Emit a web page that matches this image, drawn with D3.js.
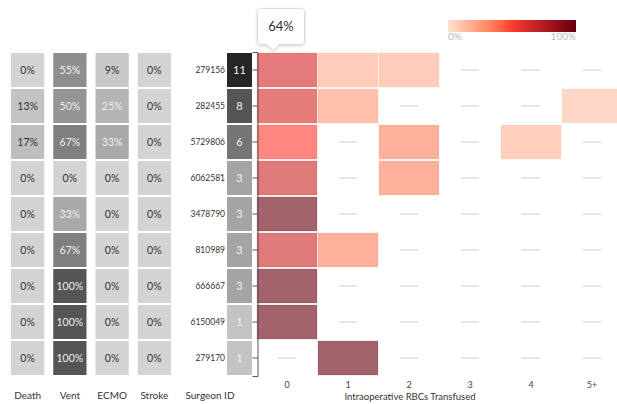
<!DOCTYPE html>
<html>
<head>
<meta charset="utf-8">
<script src="https://cdn.jsdelivr.net/npm/d3@7"></script>
<style>
  html, body { margin: 0; padding: 0; background: #fff; }
  svg { display: block; font-family: Lato, "Open Sans", sans-serif; }
</style>
</head>
<body>
<svg id="chart" width="617" height="404"></svg>
<script>
// ---- data ----
const surgeons   = ["279156", "282455", "5729806", "6062581", "3478790", "810989", "666667", "6150049", "279170"];
const caseCounts = [11, 8, 6, 3, 3, 3, 3, 1, 1];
const outcomes   = ["Death", "Vent", "ECMO", "Stroke"];
const deathPct   = [0, 13, 17, 0, 0, 0, 0, 0, 0];
const ventPct    = [55, 50, 67, 0, 33, 67, 100, 100, 100];
const ecmoPct    = [9, 25, 33, 0, 0, 0, 0, 0, 0];
const strokePct  = [0, 0, 0, 0, 0, 0, 0, 0, 0];
const rbcBins    = ["0", "1", "2", "3", "4", "5+"];
// cases per RBC bin, one row per surgeon
const rbcCounts = [
  [7, 2, 2, 0, 0, 0],
  [5, 2, 0, 0, 0, 1],
  [3, 0, 2, 0, 1, 0],
  [2, 0, 1, 0, 0, 0],
  [3, 0, 0, 0, 0, 0],
  [2, 1, 0, 0, 0, 0],
  [3, 0, 0, 0, 0, 0],
  [1, 0, 0, 0, 0, 0],
  [0, 1, 0, 0, 0, 0]
];
const tooltipText = "64%";
const legendLabels = ["0%", "100%"];

// ---- scales ----
const svg = d3.select("#chart");
const y = d3.scaleBand().domain(surgeons).range([52, 376]);
const xOut = d3.scaleBand().domain(outcomes).range([10, 179]);
const xRbc = d3.scaleBand().domain(rbcBins).range([256.5, 622.5]);
const grey = d3.scaleLinear().domain([0, 100]).range(["#d3d3d3", "#555555"]);
const countGrey = d3.scaleLinear().domain([0, 11]).range(["#d3d3d3", "#262626"]);
const heat = d3.scaleLinear().domain([0, 0.5, 1]).range(["#fee0d2", "#ff3b2f", "#67000d"]).interpolate(d3.interpolateHcl);

const outcomeVals = { Death: deathPct, Vent: ventPct, ECMO: ecmoPct, Stroke: strokePct };

// ---- outcome grid ----
const outCells = [];
surgeons.forEach((s, i) => outcomes.forEach(o => outCells.push({ s, o, v: outcomeVals[o][i] })));
const og = svg.append("g");
og.selectAll("rect").data(outCells).join("rect")
  .attr("x", d => xOut(d.o) + 1)
  .attr("y", d => y(d.s) + 1)
  .attr("width", xOut.bandwidth() - 9)
  .attr("height", y.bandwidth() - 2)
  .attr("fill", d => grey(d.v));
og.selectAll("text").data(outCells).join("text")
  .attr("x", d => xOut(d.o) + 1 + (xOut.bandwidth() - 9) / 2)
  .attr("y", d => y(d.s) + y.bandwidth() / 2)
  .attr("dy", "0.35em")
  .attr("text-anchor", "middle")
  .attr("font-size", 10.5)
  .attr("fill", d => d.v >= 20 ? "#eeeeee" : "#333")
  .text(d => d.v + "%");

// ---- surgeon id + counts ----
const cg = svg.append("g");
cg.selectAll("text.id").data(surgeons).join("text").attr("class", "id")
  .attr("x", 225)
  .attr("y", d => y(d) + y.bandwidth() / 2)
  .attr("dy", "0.35em")
  .attr("text-anchor", "end")
  .attr("font-size", 8.5)
  .attr("fill", "#333")
  .text(d => d);
cg.selectAll("rect").data(surgeons).join("rect")
  .attr("x", 227)
  .attr("y", d => y(d) + 1)
  .attr("width", 25)
  .attr("height", y.bandwidth() - 2)
  .attr("fill", (d, i) => countGrey(caseCounts[i]));
cg.selectAll("text.n").data(surgeons).join("text").attr("class", "n")
  .attr("x", 239.5)
  .attr("y", d => y(d) + y.bandwidth() / 2)
  .attr("dy", "0.35em")
  .attr("text-anchor", "middle")
  .attr("font-size", 11)
  .attr("fill", "#f2f2f2")
  .text((d, i) => caseCounts[i]);

// ---- heatmap ----
const heatCells = [];
surgeons.forEach((s, i) => {
  const total = d3.sum(rbcCounts[i]);
  rbcBins.forEach((b, j) => heatCells.push({ s, b, v: rbcCounts[i][j] / total }));
});
const hg = svg.append("g");
hg.selectAll("rect").data(heatCells.filter(d => d.v > 0)).join("rect")
  .attr("x", d => xRbc(d.b) + 0.5)
  .attr("y", d => y(d.s) + 1)
  .attr("width", xRbc.bandwidth() - 1)
  .attr("height", y.bandwidth() - 2)
  .attr("fill", d => heat(d.v))
  .attr("fill-opacity", 0.61)
  .attr("stroke", d => heat(d.v))
  .attr("stroke-opacity", 0.15);
hg.selectAll("line").data(heatCells.filter(d => d.v === 0)).join("line")
  .attr("x1", d => xRbc(d.b) + xRbc.bandwidth() / 2 - 9)
  .attr("x2", d => xRbc(d.b) + xRbc.bandwidth() / 2 + 9)
  .attr("y1", d => y(d.s) + y.bandwidth() / 2)
  .attr("y2", d => y(d.s) + y.bandwidth() / 2)
  .attr("stroke", "#ccc")
  .attr("stroke-width", 1);

// y axis (no labels)
const ya = svg.append("g").attr("transform", "translate(257.5,0)")
  .call(d3.axisLeft(y).tickSize(5).tickFormat(""));
ya.selectAll("path, line").attr("stroke", "#555");

// x axis labels
const xa = svg.append("g").attr("transform", "translate(0,376)")
  .call(d3.axisBottom(xRbc).tickSize(0).tickPadding(6));
xa.select(".domain").remove();
xa.selectAll("text").attr("font-family", "Lato, sans-serif").attr("font-size", 9).attr("fill", "#444");

// ---- bottom labels ----
const labels = svg.append("g").attr("font-size", 10).attr("fill", "#333").attr("text-anchor", "middle");
labels.selectAll("text.o").data(outcomes).join("text").attr("class", "o")
  .attr("x", d => xOut(d) + 1 + (xOut.bandwidth() - 9) / 2)
  .attr("y", 399)
  .text(d => d);
labels.append("text").attr("x", 210).attr("y", 399).text("Surgeon ID");
labels.append("text").attr("x", 410).attr("y", 400).attr("font-size", 9.5).text("Intraoperative RBCs Transfused");

// ---- legend ----
const defs = svg.append("defs");
const grad = defs.append("linearGradient").attr("id", "lg");
d3.range(0, 1.0001, 0.05).forEach(t => grad.append("stop").attr("offset", t).attr("stop-color", heat(t)));
const legScale = d3.scaleLinear().domain([0, 1]).range([448, 576]);
svg.append("rect")
  .attr("x", legScale(0)).attr("y", 20)
  .attr("width", legScale(1) - legScale(0)).attr("height", 12)
  .attr("fill", "url(#lg)");
svg.append("text").attr("x", legScale(0)).attr("y", 40).attr("font-size", 10).attr("fill", "#bbb")
  .text(legendLabels[0]);
svg.append("text").attr("x", legScale(1)).attr("y", 40).attr("font-size", 10).attr("fill", "#bbb")
  .attr("text-anchor", "end").text(legendLabels[1]);

// ---- tooltip ----
const filt = defs.append("filter").attr("id", "sh").attr("x", "-30%").attr("y", "-30%").attr("width", "160%").attr("height", "160%");
filt.append("feDropShadow").attr("dx", 0).attr("dy", 1).attr("stdDeviation", 1.5).attr("flood-color", "#000").attr("flood-opacity", 0.18);
const tip = svg.append("g");
const bx = 257.5, by = 8.5, bw = 47, bh = 36, ax = 273, r = 3;
tip.append("path")
  .attr("d", `M${bx + r},${by} H${bx + bw - r} Q${bx + bw},${by} ${bx + bw},${by + r} V${by + bh - r} Q${bx + bw},${by + bh} ${bx + bw - r},${by + bh} H${ax + 6} L${ax},${by + bh + 6} L${ax - 6},${by + bh} H${bx + r} Q${bx},${by + bh} ${bx},${by + bh - r} V${by + r} Q${bx},${by} ${bx + r},${by} Z`)
  .attr("fill", "#fff")
  .attr("stroke", "#ddd")
  .attr("filter", "url(#sh)");
tip.append("text").attr("x", bx + bw / 2).attr("y", by + bh / 2).attr("dy", "0.35em")
  .attr("text-anchor", "middle").attr("font-size", 13).attr("fill", "#333").text(tooltipText);
</script>
</body>
</html>
